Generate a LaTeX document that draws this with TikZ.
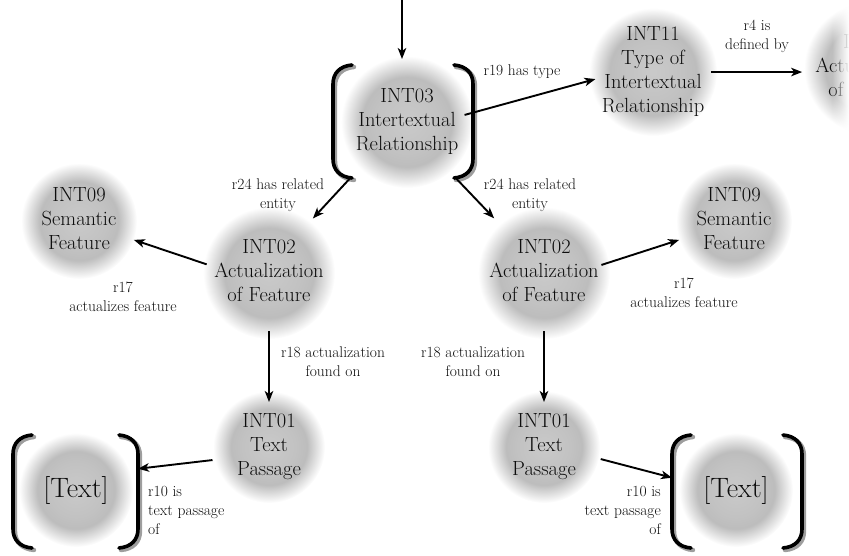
\documentclass[tikz,border=0pt]{standalone}
\usetikzlibrary{arrows.meta,fadings}

\pgfdeclarelayer{blobs}
\pgfsetlayers{blobs,main}

% soft grey disc behind each concept
\pgfdeclareradialshading{blob}{\pgfpoint{0bp}{0bp}}{%
  color(0bp)=(black!21); color(12bp)=(black!24); color(17bp)=(black!26);
  color(21bp)=(black!13); color(25bp)=(white); color(50bp)=(white)}

% right edge of the picture fades out
\tikzfading[name=edgefade, left color=transparent!100, right color=transparent!0]

% centred multi-line text that does not enlarge the node
\newcommand\ctext[1]{\smash{\makebox[0pt]{\raisebox{-0.6ex}{%
  \begin{tabular}[c]{@{}c@{}}#1\end{tabular}}}}}

% a pair of round brackets around a rectangular node
\newcommand\drawbrackets[2]{%
  \draw[#2] ([xshift=19pt]#1.north west) .. controls +(-12,1) and +(0,-11) ..
    ([yshift=-19pt]#1.north west) -- ([yshift=19pt]#1.south west)
    .. controls +(0,11) and +(-12,-1) .. ([xshift=19pt]#1.south west);
  \draw[#2] ([xshift=-19pt]#1.north east) .. controls +(12,1) and +(0,-11) ..
    ([yshift=-19pt]#1.north east) -- ([yshift=19pt]#1.south east)
    .. controls +(0,11) and +(12,-1) .. ([xshift=-19pt]#1.south east);
}

\tikzset{
  concept/.style={circle, inner sep=0pt, outer sep=0pt, minimum size=116pt,
    font=\fontsize{20.5}{24}\selectfont, text=black!95},
  bigtext/.style={circle, inner sep=0pt, outer sep=0pt, minimum size=100pt,
    font=\fontsize{28}{30}\selectfont, text=black!95},
  frame/.style={rectangle, inner sep=0pt, outer sep=0pt, draw=none},
  lbl/.style={font=\fontsize{15.5}{19}\selectfont, align=center,
    inner sep=0pt, text=black!95},
  conn/.style={line width=1.9pt, draw=black,
    -{Stealth[length=11pt,width=8.5pt,inset=3pt]}},
  brk/.style={draw=black, line width=3.6pt, line cap=round},
  brkshadow/.style={draw=black!38, line width=4.4pt, line cap=round,
    transform canvas={shift={(2pt,-2pt)}}},
}

\begin{document}
\begin{tikzpicture}[x=1pt, y=-1pt]
\useasboundingbox (0,0) rectangle (849,555);

% concepts
\node[concept] (int03)  at (407,122) {\ctext{INT03\\Intertextual\\Relationship}};
\node[concept] (int11)  at (653,72)  {\ctext{INT11\\Type of\\Intertextual\\Relationship}};
\node[concept] (part)   at (870,68)  {\ctext{INT02\\Actualization\\of Feature}};
\node[concept] (int09l) at (79,221)  {\ctext{INT09\\Semantic\\Feature}};
\node[concept] (int02l) at (269,273) {\ctext{INT02\\Actualization\\of Feature}};
\node[concept] (int02r) at (544,273) {\ctext{INT02\\Actualization\\of Feature}};
\node[concept] (int09r) at (734,221) {\ctext{INT09\\Semantic\\Feature}};
\node[concept] (int01l) at (269,447) {\ctext{INT01\\Text\\Passage}};
\node[concept] (int01r) at (544,447) {\ctext{INT01\\Text\\Passage}};
\node[bigtext] (textl)  at (76,490)  {\ctext{[Text]}};
\node[bigtext] (textr)  at (736,490) {\ctext{[Text]}};

% bracket frames
\node[frame, minimum width=140pt, minimum height=113pt] (b03) at (403,121.5) {};
\node[frame, minimum width=125pt, minimum height=113pt] (btl) at (75.5,491.5) {};
\node[frame, minimum width=130pt, minimum height=113pt] (btr) at (737,491.5) {};

\begin{pgfonlayer}{blobs}
  \foreach \n/\r in {int03/66, int11/64, part/66, int09l/58, int02l/66,
      int02r/66, int09r/58, int01l/56, int01r/56, textl/57, textr/57}
    \shade[shading=blob] (\n) circle[radius=\r];
\end{pgfonlayer}

\foreach \b in {b03, btl, btr} {
  \drawbrackets{\b}{brkshadow}
  \drawbrackets{\b}{brk}
}

% connectors
\coordinate (entry) at (402,0);
\draw[conn, shorten >=6pt] (entry) -- (entry |- b03.north);
\draw[conn] (int03.7) -- (int11.187);
\draw[conn, shorten >=10pt] (int11.0) -- (part.184);
\draw[conn, shorten >=12pt] (b03.-133) -- (int02l.52);
\draw[conn, shorten >=16pt] (b03.-47) -- (int02r.132);
\draw[conn, shorten <=5pt] (int02l.173) -- (int09l.-19);
\draw[conn] (int02r.8) -- (int09r.199);
\draw[conn, shorten >=-13pt] (int02l.south) -- (int01l.north);
\draw[conn, shorten >=-13pt] (int02r.south) -- (int01r.north);
\draw[conn] (int01l.193) -- (btl.20);
\draw[conn] (int01r.-12) -- (btr.168);

% connector labels
\node[lbl] (l19)  at (522,72)  {r19 has type};
\node[lbl] (l4)   at (757,36)  {r4 is\\defined by};
\node[lbl] (l24l) at (278,195) {r24 has related\\entity};
\node[lbl] (l24r) at (530,195) {r24 has related\\entity};
\node[lbl] (l17l) at (123,297) {r17\\actualizes feature};
\node[lbl] (l17r) at (684,293) {r17\\actualizes feature};
\node[lbl] (l18l) at (333,362) {r18 actualization\\found on};
\node[lbl] (l18r) at (473,362) {r18 actualization\\found on};
\node[lbl, align=left, anchor=west]  (l10l) at (148,510) {r10 is\\text passage\\of};
\node[lbl, align=right, anchor=east] (l10r) at (661,510) {r10 is\\text passage\\of};

% fade-out along the right edge
\fill[white, path fading=edgefade] (832,0) rectangle (849,555);
\end{tikzpicture}
\end{document}
